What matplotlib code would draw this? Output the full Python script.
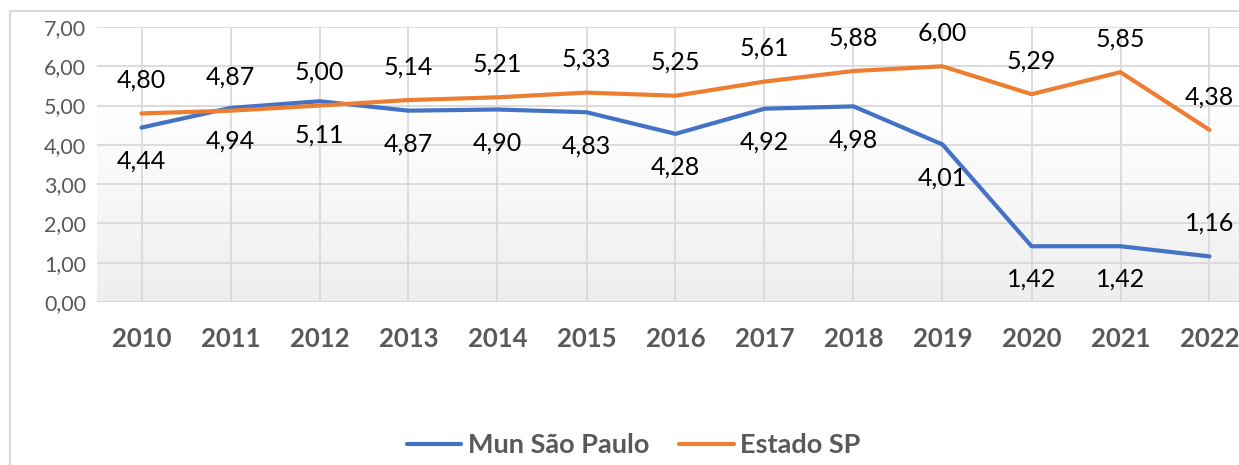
import numpy as np
import matplotlib.pyplot as plt
from matplotlib.patches import Rectangle

anos = ["2010", "2011", "2012", "2013", "2014", "2015", "2016",
        "2017", "2018", "2019", "2020", "2021", "2022"]
mun_sp = [4.44, 4.94, 5.11, 4.87, 4.90, 4.83, 4.28, 4.92, 4.98, 4.01, 1.42, 1.42, 1.16]
estado_sp = [4.80, 4.87, 5.00, 5.14, 5.21, 5.33, 5.25, 5.61, 5.88, 6.00, 5.29, 5.85, 4.38]
y_ticks = [0, 1, 2, 3, 4, 5, 6, 7]

azul = "#4472C4"
laranja = "#ED7D31"
cinza = "#595959"
grade = "#D9D9D9"

plt.rcParams['font.family'] = ['Lato', 'DejaVu Sans']

W, H = 1239, 465
fig = plt.figure(figsize=(W / 100, H / 100), dpi=100)

# borda do grafico (cortada na direita e embaixo)
fig.patches.append(Rectangle((10 / W, -0.1), 1.2, (H - 11) / H + 0.1,
                             transform=fig.transFigure, fill=False,
                             edgecolor=grade, linewidth=1.5))

ax = fig.add_axes([97 / W, (H - 302) / H, (1254 - 97) / W, (302 - 27) / H])
ax.set_xlim(-0.5, 12.5)
ax.set_ylim(0, 7)

# fundo com degrade
grad = np.linspace(0, 1, 256).reshape(-1, 1)
grad = np.clip(grad / 0.72, 0, 1)
cor = 1 - 0.065 * (1 - grad)
ax.imshow(np.dstack([cor, cor, cor]), extent=[-0.5, 12.5, 0, 7],
          origin='lower', aspect='auto', zorder=0)

x = np.arange(len(anos))
ax.set_yticks(y_ticks)
ax.set_yticklabels([f"{v:.2f}".replace(".", ",") for v in y_ticks],
                   color=cinza, fontsize=15.5)
ax.set_xticks(x)
ax.set_xticklabels(anos, color=cinza, fontsize=18.5, fontweight='bold')
ax.tick_params(length=0, pad=8)
ax.tick_params(axis='x', pad=18)
ax.grid(True, color=grade, linewidth=1.3, zorder=1)
ax.set_axisbelow(True)
for s in ax.spines.values():
    s.set_visible(False)
ax.axhline(0, color=grade, linewidth=1.5, zorder=1)

l1, = ax.plot(x, mun_sp, color=azul, linewidth=3, solid_capstyle='round',
              label="Mun São Paulo", zorder=3)
l2, = ax.plot(x, estado_sp, color=laranja, linewidth=3, solid_capstyle='round',
              label="Estado SP", zorder=3)

for i, v in enumerate(mun_sp):
    dy = -24 if i < len(mun_sp) - 1 else 24
    ax.annotate(f"{v:.2f}".replace(".", ","), (x[i], v), xytext=(0, dy),
                textcoords='offset points', ha='center', va='center',
                fontsize=18, color='black', zorder=4)
for i, v in enumerate(estado_sp):
    ax.annotate(f"{v:.2f}".replace(".", ","), (x[i], v), xytext=(0, 24),
                textcoords='offset points', ha='center', va='center',
                fontsize=18, color='black', zorder=4)

leg = fig.legend(handles=[l1, l2], loc='center', bbox_to_anchor=(634 / W, 1 - 445 / H),
                 ncol=2, frameon=False, handlelength=2.0, handletextpad=0.25,
                 columnspacing=1.1, prop={'size': 19.5, 'weight': 'bold'})
for t in leg.get_texts():
    t.set_color(cinza)

fig.savefig("out.png", dpi=100)
